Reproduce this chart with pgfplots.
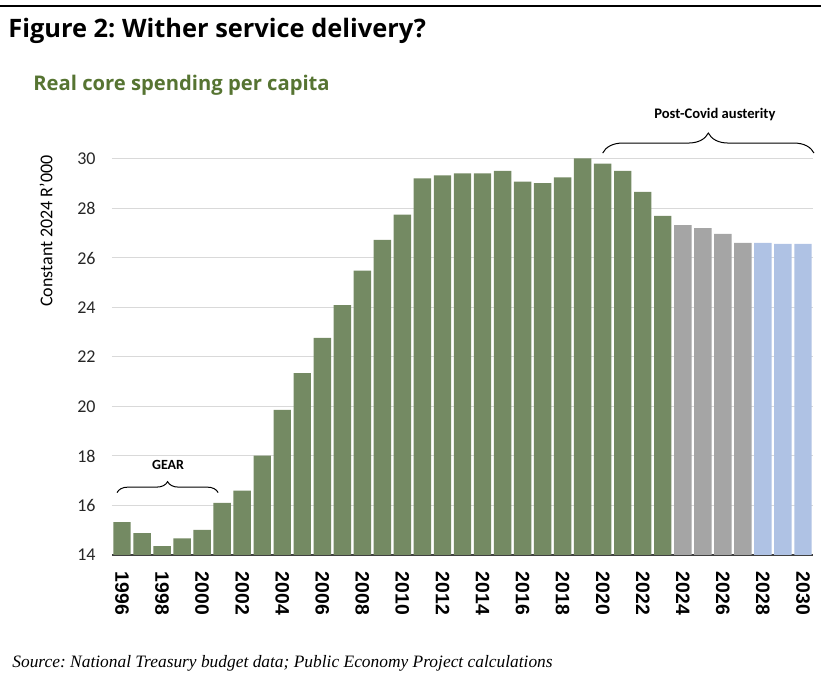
\documentclass[border=0pt]{standalone}
\usepackage{pgfplots}
\pgfplotsset{compat=1.18}
\usepackage{fontspec}
\setmainfont{Carlito}
\newfontfamily\titlefont{Open Sans}
\newfontfamily\arialfont{Liberation Sans}
\newfontfamily\sourcefont{Liberation Serif}
\usetikzlibrary{decorations.pathreplacing}
\definecolor{bargreen}{RGB}{116,138,99}
\definecolor{bargrey}{RGB}{165,165,165}
\definecolor{barblue}{RGB}{175,194,228}
\definecolor{subgreen}{RGB}{86,116,50}
\definecolor{gridgrey}{RGB}{217,217,217}
\frenchspacing
\begin{document}
\begin{tikzpicture}
\useasboundingbox (0,0) rectangle (410.5pt,340pt);
\draw[line width=1.25pt, black] (0,337pt) -- (410.5pt,337pt);
\node[anchor=base west, inner sep=0pt] at (4pt,321.25pt) {\titlefont\bfseries\fontsize{12.7}{14}\selectfont Figure 2: Wither service delivery?};
\node[anchor=base west, inner sep=0pt, text=subgreen] at (16.5pt,294.6pt) {\titlefont\bfseries\fontsize{10.1}{12}\selectfont Real core spending per capita};
\begin{axis}[
  at={(56pt,62.5pt)}, anchor=south west,
  scale only axis, width=350.5pt, height=198pt,
  xmin=1995.5, xmax=2030.5, ymin=14, ymax=30,
  clip=false,
  axis x line*=bottom, axis y line*=left,
  x axis line style={-, draw=black!75, line width=0.75pt},
  y axis line style={draw=none},
  major tick length=0pt,
  xtick={1996,1998,...,2030},
  ytick={14,16,...,30},
  ymajorgrids, major grid style={gridgrey, line width=0.5pt},
  /pgf/number format/1000 sep={},
  /pgf/number format/assume math mode=true,
  xticklabel style={rotate=-90, anchor=west, inner sep=0pt, font=\arialfont\bfseries\fontsize{9.7}{10}\selectfont},
  xticklabel shift=8.3pt,
  yticklabel style={font=\fontsize{9}{10}\selectfont, text=black!85, inner sep=0pt},
  yticklabel shift=8pt,
  ylabel={Constant 2024 R'000},
  ylabel style={at={(rel axis cs:-0.0942,0.818)}, anchor=center, font=\fontsize{9}{10}\selectfont},
]
\addplot[ybar, bar width=0.87, fill=bargreen, draw=none] coordinates {
(1996,15.33) (1997,14.88) (1998,14.36) (1999,14.67) (2000,15.01)
(2001,16.11) (2002,16.60) (2003,18.01) (2004,19.86) (2005,21.35)
(2006,22.77) (2007,24.10) (2008,25.49) (2009,26.73) (2010,27.75)
(2011,29.22) (2012,29.34) (2013,29.42) (2014,29.42) (2015,29.52)
(2016,29.09) (2017,29.03) (2018,29.26) (2019,30.03) (2020,29.81)
(2021,29.52) (2022,28.67) (2023,27.70)
};
\addplot[ybar, bar width=0.87, fill=bargrey, draw=none] coordinates {
(2024,27.33) (2025,27.21) (2026,26.97) (2027,26.61)
};
\addplot[ybar, bar width=0.87, fill=barblue, draw=none] coordinates {
(2028,26.61) (2029,26.57) (2030,26.57)
};
\draw[decorate, decoration={brace, amplitude=5.5pt}, line width=0.5pt]
  (axis cs:1995.75,16.52) -- (axis cs:2000.8,16.52);
\node[font=\bfseries\fontsize{7}{8}\selectfont] at (axis cs:1998.3,17.64) {GEAR};
\draw[decorate, decoration={brace, amplitude=10pt}, line width=0.5pt]
  (axis cs:2020.0,30.24) -- (axis cs:2030.55,30.24);
\node[font=\bfseries\fontsize{7.3}{8}\selectfont] at (axis cs:2025.6,31.8) {Post-Covid austerity};
\end{axis}
\node[anchor=base west, inner sep=0pt] at (6pt,6pt) {\sourcefont\itshape\fontsize{8.7}{11}\selectfont Source: National Treasury budget data; Public Economy Project calculations};
\end{tikzpicture}
\end{document}
